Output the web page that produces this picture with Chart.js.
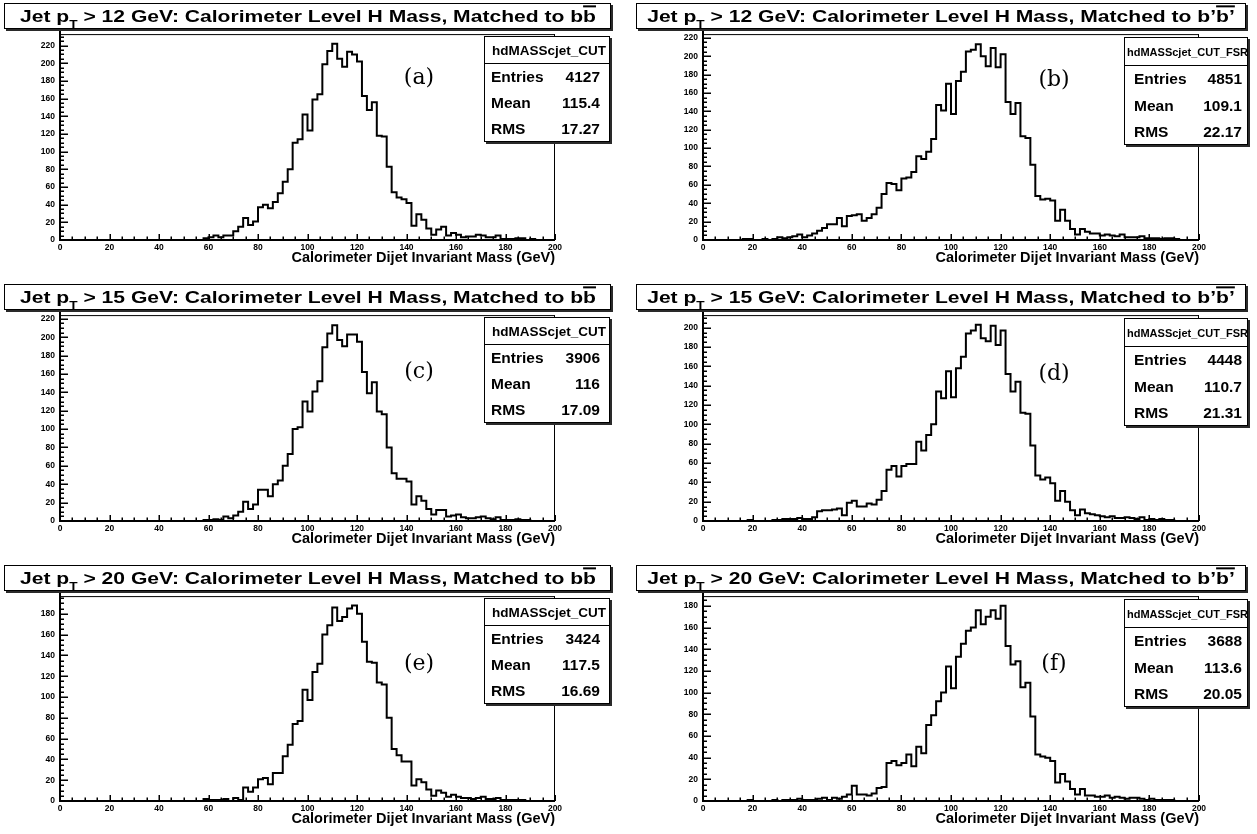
<!DOCTYPE html>
<html>
<head>
<meta charset="utf-8">
<title>Calorimeter Level H Mass</title>
<script src="https://cdn.jsdelivr.net/npm/chart.js@4.4.1/dist/chart.umd.min.js"></script>
<style>
html,body{margin:0;padding:0;background:#fff;}
body{position:relative;width:1257px;height:834px;overflow:hidden;font-family:"Liberation Sans",Arial,Helvetica,sans-serif;color:#000;}
canvas.hist{position:absolute;}
.tbox{position:absolute;box-sizing:border-box;border:1.5px solid #000;background:#fff;box-shadow:2px 2px 0 #2a2a2a;}
.tbox .tx{position:absolute;left:50%;top:50%;white-space:nowrap;font-weight:bold;font-size:17px;line-height:17px;transform:translate(-50%,-45%) scaleX(1.24);}
.tx sub{font-size:11px;vertical-align:-6px;line-height:0;}
.ov{text-decoration:overline;text-decoration-thickness:2px;}
.sbox{position:absolute;box-sizing:border-box;border:1.5px solid #000;background:#fff;box-shadow:2px 2px 0 #2a2a2a;}
.sbox .hd{position:absolute;left:0;right:0;top:0;box-sizing:border-box;border-bottom:1.5px solid #000;white-space:nowrap;overflow:hidden;font-weight:bold;display:flex;align-items:center;}
.sbox .row{position:absolute;left:0;right:0;box-sizing:border-box;font-weight:bold;font-size:15.5px;display:flex;justify-content:space-between;align-items:center;}
.letter{position:absolute;font-family:"DejaVu Serif","Liberation Serif",serif;font-size:22px;transform:translate(-50%,-50%);white-space:nowrap;}
</style>
</head>
<body>
<script>
// ---------------- data ----------------
const X_MIN = 0, X_MAX = 200;
const massBinLowEdges = Array.from({length: 100}, (_, i) => 2 * i); // 2 GeV bins, 0..198
const xTickLabels = [0, 20, 40, 60, 80, 100, 120, 140, 160, 180, 200];

// (a) Jet pT > 12 GeV, matched to b bbar
const countsA = [0,0,0,0,0,0,0,0,0,0, 0,0,0,0,0,0,0,0,0,0, 0,0,0,0,0,0,0,0,0,0,
  2,3,5,3,5,5,10,15,25,17, 21,37,40,36,43,53,66,80,110,114,
  142,124,159,165,199,214,222,205,196,213, 210,202,163,147,156,118,117,83,54,48,
  46,42,16,29,23,13,6,12,15,5, 8,6,3,4,4,6,5,3,3,5, 1,1,1,2,2,0,1,0,0,0];
// (b) Jet pT > 12 GeV, matched to b' b'bar (FSR)
const countsB = [0,0,0,0,0,0,0,0,0,1, 1,0,0,1,0,1,3,2,3,4, 6,3,5,7,10,13,17,17,24,15,
  26,27,28,21,24,28,35,50,62,61, 54,67,68,74,91,88,96,110,147,141,
  170,137,173,183,205,207,213,200,189,209, 188,202,150,137,149,113,111,82,48,44,
  45,43,21,33,21,12,6,12,9,7, 7,5,6,5,4,6,3,3,3,4, 2,2,2,1,2,2,1,0,0,0];
// (c) Jet pT > 15 GeV, matched to b bbar
const countsC = [0,0,0,0,0,0,0,0,0,0, 0,0,0,0,0,0,0,0,0,0, 0,0,0,0,0,0,0,0,0,0,
  1,1,2,1,5,3,6,10,21,13, 18,34,34,27,40,44,60,73,100,102,
  130,119,141,152,189,204,213,197,190,203, 203,195,162,139,151,119,116,80,52,46,
  46,43,18,27,22,13,7,12,12,5, 6,7,4,3,3,4,5,3,2,4, 1,1,1,2,1,1,0,0,0,0];
// (d) Jet pT > 15 GeV, matched to b' b'bar (FSR)
const countsD = [0,0,0,0,0,0,0,0,0,0, 1,0,0,0,0,1,1,2,2,2, 3,2,2,4,10,11,11,12,13,6,
  19,21,15,15,18,17,22,31,53,57, 46,57,59,59,82,73,89,100,134,127,
  155,128,158,170,194,197,203,189,186,202, 182,197,152,134,144,112,111,78,47,43,
  45,39,21,31,20,11,6,12,8,7, 6,5,4,5,3,3,4,3,2,4, 1,2,1,2,1,1,0,0,0,0];
// (e) Jet pT > 20 GeV, matched to b bbar
const countsE = [0,0,0,0,0,0,0,0,0,0, 0,0,0,0,0,0,0,0,0,0, 0,0,0,0,0,0,0,0,0,0,
  2,1,1,1,2,0,3,1,13,9, 13,21,22,16,27,27,43,54,74,77,
  107,97,124,132,160,169,186,173,177,185, 188,180,153,134,133,114,112,80,50,44,
  38,38,15,21,18,11,5,10,8,4, 6,4,3,3,2,3,4,2,2,3, 1,1,1,1,1,0,0,0,0,0];
// (f) Jet pT > 20 GeV, matched to b' b'bar (FSR)
const countsF = [0,0,0,0,0,0,0,0,0,0, 1,0,0,0,0,1,0,1,1,1, 2,1,1,1,2,3,1,3,2,4,
  6,14,6,6,5,7,12,13,35,37, 33,35,43,32,50,44,70,79,92,100,
  124,104,133,145,157,160,176,163,170,176, 168,180,143,126,129,105,109,78,43,41,
  40,37,17,25,18,11,6,11,5,5, 4,4,5,3,4,3,2,3,3,2, 1,2,1,1,1,1,0,0,0,0];

const allCounts = [countsA, countsB, countsC, countsD, countsE, countsF];
const yAxisMax = [233, 224, 224, 213, 197, 189];
const ptThresholds = ['12', '12', '15', '15', '20', '20'];
const histNames = ['hdMASScjet_CUT', 'hdMASScjet_CUT_FSR', 'hdMASScjet_CUT', 'hdMASScjet_CUT_FSR', 'hdMASScjet_CUT', 'hdMASScjet_CUT_FSR'];
const statEntries = ['4127', '4851', '3906', '4448', '3424', '3688'];
const statMeans = ['115.4', '109.1', '116', '110.7', '117.5', '113.6'];
const statRMS = ['17.27', '22.17', '17.09', '21.31', '16.69', '20.05'];
const panelLetters = ['(a)', '(b)', '(c)', '(d)', '(e)', '(f)'];
const X_TITLE = 'Calorimeter Dijet Invariant Mass (GeV)';

// ---------------- layout ----------------
const FONT = '"Liberation Sans", Arial, Helvetica, sans-serif';
const COLS = [{l: 60, r: 555}, {l: 703, r: 1199}];
const ROWS = [{t: 32, b: 240}, {t: 313, b: 521}, {t: 594, b: 801}];
const ROW_SHIFT = [0, 281, 562];
const YW = 40, XH = 27, PT = 8, PR = 14;
const TITLE_GEOM = [{l: 4, r: 611}, {l: 636, r: 1246}];
const TITLE_TOP = 3, TITLE_H = 26;
const STATS_GEOM = [
  {l: 484, t: 36, w: 126, h: 106, hh: 27, rh: 26, pl: 6, pr: 9, hf: 13.5, hpl: 7},
  {l: 1124, t: 37, w: 124, h: 108, hh: 28, rh: 26.5, pl: 9, pr: 5, hf: 11, hpl: 2}
];
const LETTER_POS = [[419, 76], [1054, 78], [419, 370], [1054, 372], [419, 662], [1054, 662]];

const rootFrame = {
  id: 'rootFrame',
  afterDatasetsDraw(chart) {
    const {ctx, chartArea: a, scales: {x, y}} = chart;
    ctx.save();
    ctx.strokeStyle = '#000';
    ctx.lineCap = 'butt';
    ctx.lineWidth = 1;
    ctx.beginPath();
    ctx.moveTo(a.left, a.top + 0.5); ctx.lineTo(a.right, a.top + 0.5);
    ctx.moveTo(a.right - 0.5, a.top); ctx.lineTo(a.right - 0.5, a.bottom);
    ctx.stroke();
    ctx.lineWidth = 2;
    ctx.beginPath();
    ctx.moveTo(a.left, a.top - PT); ctx.lineTo(a.left, a.bottom + 1);
    ctx.moveTo(a.left - 1, a.bottom); ctx.lineTo(a.right, a.bottom);
    ctx.stroke();
    ctx.lineWidth = 1.5;
    ctx.beginPath();
    for (let v = X_MIN; v <= X_MAX; v += 5) {
      const px = Math.round(x.getPixelForValue(v)) + 0.25;
      const len = v % 20 === 0 ? 6 : 3.5;
      ctx.moveTo(px, a.bottom); ctx.lineTo(px, a.bottom - len);
    }
    for (let v = 0; v <= y.max; v += 5) {
      const py = Math.round(y.getPixelForValue(v)) + 0.25;
      const len = v % 20 === 0 ? 8 : 4;
      ctx.moveTo(a.left, py); ctx.lineTo(a.left + len, py);
    }
    ctx.stroke();
    ctx.restore();
  }
};

function makeHist(idx) {
  const counts = allCounts[idx];
  const col = idx % 2, row = Math.floor(idx / 2);
  const fl = COLS[col].l, fr = COLS[col].r, ft = ROWS[row].t, fb = ROWS[row].b;
  const W = fr - fl + YW + PR, H = fb - ft + PT + XH;
  const cv = document.createElement('canvas');
  cv.className = 'hist';
  cv.width = W; cv.height = H;
  cv.style.left = (fl - YW) + 'px';
  cv.style.top = (ft - PT) + 'px';
  cv.style.width = W + 'px';
  cv.style.height = H + 'px';
  document.body.appendChild(cv);
  const pts = massBinLowEdges.map((xv, i) => ({x: xv, y: counts[i]}));
  pts.push({x: X_MAX, y: counts[counts.length - 1]});
  new Chart(cv, {
    type: 'line',
    data: {datasets: [{data: pts, stepped: 'after', borderColor: '#000', borderWidth: 2,
      pointRadius: 0, fill: false, tension: 0}]},
    options: {
      responsive: false, animation: false, devicePixelRatio: 1,
      layout: {padding: {left: 0, right: PR, top: PT, bottom: 0}},
      plugins: {legend: {display: false}, tooltip: {enabled: false}, title: {display: false}},
      scales: {
        x: {
          type: 'linear', min: X_MIN, max: X_MAX,
          grid: {display: false, drawTicks: false}, border: {display: false},
          afterBuildTicks: s => { s.ticks = xTickLabels.map(v => ({value: v})); },
          ticks: {padding: 3, maxRotation: 0, autoSkip: false, color: '#000',
            font: {family: FONT, size: 8.5, weight: 'bold'}},
          title: {display: true, text: X_TITLE, align: 'end', color: '#000',
            font: {family: FONT, size: 14.5, weight: 'bold'}, padding: {top: 0, bottom: 0}},
          afterFit: s => { s.height = XH; }
        },
        y: {
          type: 'linear', min: 0, max: yAxisMax[idx],
          grid: {display: false, drawTicks: false}, border: {display: false},
          ticks: {stepSize: 20, maxTicksLimit: 30, includeBounds: false, padding: 5, color: '#000',
            font: {family: FONT, size: 8.5, weight: 'bold'}},
          afterFit: s => { s.width = YW; }
        }
      }
    },
    plugins: [rootFrame]
  });
}

function makeDecorations(idx) {
  const col = idx % 2, row = Math.floor(idx / 2);
  const dy = ROW_SHIFT[row];
  const tg = TITLE_GEOM[col];
  const tb = document.createElement('div');
  tb.className = 'tbox';
  tb.style.left = tg.l + 'px'; tb.style.top = (TITLE_TOP + dy) + 'px';
  tb.style.width = (tg.r - tg.l) + 'px'; tb.style.height = TITLE_H + 'px';
  const match = col === 0 ? 'b<span class="ov">b</span>' : 'b\u2019<span class="ov">b\u2019</span>';
  tb.innerHTML = '<span class="tx">Jet p<sub>T</sub> &gt; ' + ptThresholds[idx] +
    ' GeV: Calorimeter Level H Mass, Matched to ' + match + '</span>';
  document.body.appendChild(tb);
  const sg = STATS_GEOM[col];
  const sb = document.createElement('div');
  sb.className = 'sbox';
  sb.style.left = sg.l + 'px'; sb.style.top = (sg.t + dy) + 'px';
  sb.style.width = sg.w + 'px'; sb.style.height = sg.h + 'px';
  const hd = document.createElement('div');
  hd.className = 'hd';
  hd.style.height = sg.hh + 'px'; hd.style.fontSize = sg.hf + 'px'; hd.style.paddingLeft = sg.hpl + 'px';
  hd.textContent = histNames[idx];
  sb.appendChild(hd);
  const rows = [['Entries', statEntries[idx]], ['Mean', statMeans[idx]], ['RMS', statRMS[idx]]];
  rows.forEach((r, k) => {
    const d = document.createElement('div');
    d.className = 'row';
    d.style.top = (sg.hh + k * sg.rh) + 'px';
    d.style.height = sg.rh + 'px';
    d.style.paddingLeft = sg.pl + 'px'; d.style.paddingRight = sg.pr + 'px';
    d.innerHTML = '<span>' + r[0] + '</span><span>' + r[1] + '</span>';
    sb.appendChild(d);
  });
  document.body.appendChild(sb);
  const lt = document.createElement('div');
  lt.className = 'letter';
  lt.style.left = LETTER_POS[idx][0] + 'px'; lt.style.top = LETTER_POS[idx][1] + 'px';
  lt.textContent = panelLetters[idx];
  document.body.appendChild(lt);
}

for (let i = 0; i < 6; i++) makeHist(i);
for (let i = 0; i < 6; i++) makeDecorations(i);
</script>
</body>
</html>
